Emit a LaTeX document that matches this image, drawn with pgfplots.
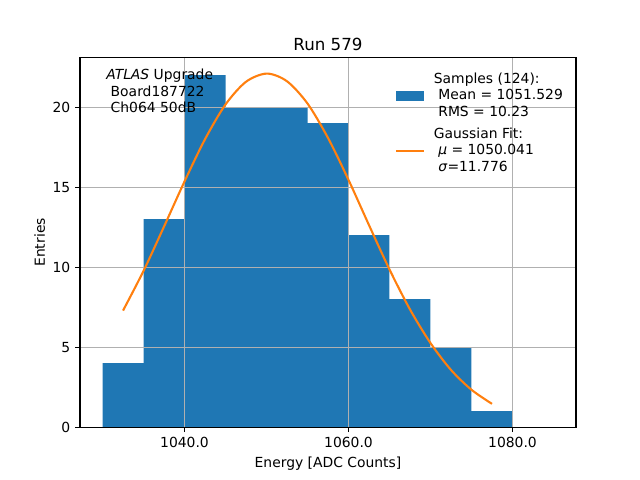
\documentclass[border=0pt]{standalone}
\usepackage{pgfplots}
\pgfplotsset{compat=1.18}
\usepackage{fontspec}
\setmainfont{DejaVu Sans}
\definecolor{mplblue}{HTML}{1F77B4}
\definecolor{mplorange}{HTML}{FF7F0E}
\definecolor{gridgray}{HTML}{B0B0B0}
\begin{document}
\begin{tikzpicture}
\begin{axis}[
  set layers=standard,
  anchor=south west, at={(0pt,0pt)},
  scale only axis, width=357.12pt, height=266.112pt,
  xmin=1027.25, xmax=1087.75, ymin=0, ymax=23.1,
  xtick={1040,1060,1080}, xticklabels={1040.0,1060.0,1080.0},
  ytick={0,5,10,15,20},
  /pgf/number format/assume math mode=true,
  tick pos=left, tick align=outside, major tick length=3.5pt,
  tick style={black, line width=0.8pt},
  axis line style={line width=0.8pt},
  grid=major, grid style={gridgray, line width=0.8pt},
  ticklabel style={font=\fontsize{10pt}{12pt}\selectfont},
  xlabel={Energy [ADC Counts]}, ylabel={Entries},
  label style={font=\fontsize{10pt}{12pt}\selectfont},
  ylabel style={xshift=0pt, yshift=-1.4pt},
  title={Run 579},
  title style={font=\fontsize{12pt}{14pt}\selectfont, at={(0.5,1)}, anchor=base, yshift=-1.2pt, inner sep=0pt},
  legend style={draw=none, fill=none, at={(0.6351,0.958)}, anchor=north west,
    inner sep=0pt, outer sep=0pt, row sep=7pt,
    font=\fontsize{10pt}{11.7pt}\selectfont,
    nodes={inner sep=0pt}},
  legend cell align=left,
  legend style={cells={anchor=west, align=left}},
]
\addplot[ybar interval, fill=mplblue, draw=none, on layer=axis background,
  legend image code/.code={\fill[mplblue] (0pt,-3.5pt) rectangle (20pt,3.5pt); \path (26.5pt,0pt);}]
  coordinates {(1030,4) (1035,13) (1040,22) (1045,20) (1050,20) (1055,19) (1060,12) (1065,8) (1070,5) (1075,1) (1080,0) (1085,0)};
\addlegendentry{Samples (124):\\\hspace*{3.2pt}Mean = 1051.529\\\hspace*{3.2pt}RMS = 10.23}
\addplot[mplorange, line width=1.5pt, smooth,
  legend image code/.code={\draw[mplorange, line width=1.5pt] (0pt,0pt) -- (20pt,0pt); \path (26.5pt,0pt);}]
  coordinates {(1032.5,7.29) (1035,9.77) (1037.5,12.54) (1040,15.36) (1042.5,18.00) (1045,20.17) (1047.5,21.59) (1050.041,22.10) (1052.5,21.62) (1055,20.23) (1057.5,18.08) (1060,15.46) (1062.5,12.63) (1065,9.86) (1067.5,7.36) (1070,5.26) (1072.5,3.58) (1075,2.34) (1077.5,1.46)};
\addlegendentry{Gaussian Fit:\\\hspace*{3.2pt}\textit{μ} = 1050.041\\\hspace*{3.2pt}\textit{σ}=11.776}
\node[anchor=north west, align=left, inner sep=0pt, font=\fontsize{10pt}{12pt}\selectfont]
  at (axis description cs:0.0524,0.970) {\textit{ATLAS} Upgrade\\\hspace*{3.2pt}Board187722\\\hspace*{3.2pt}Ch064 50dB};
\end{axis}
\pgfresetboundingbox
\path[use as bounding box] (-57.6pt,-38.016pt) rectangle (403.2pt,307.584pt);
\end{tikzpicture}
\end{document}
